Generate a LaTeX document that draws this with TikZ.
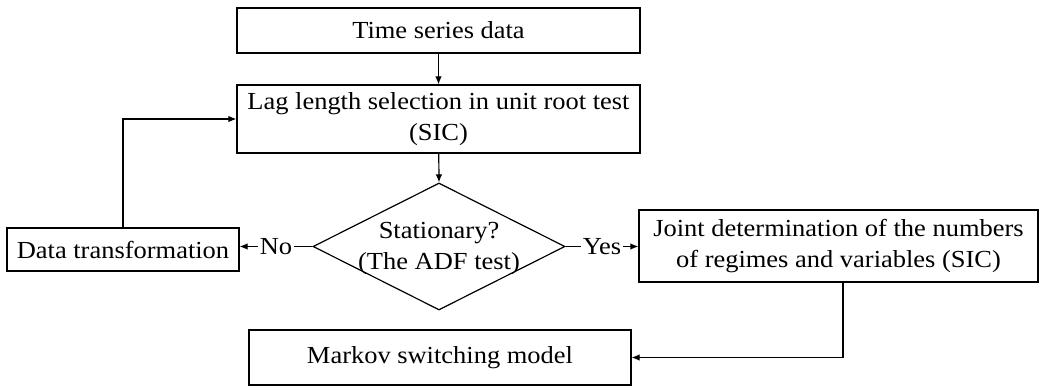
\documentclass[tikz,border=0pt]{standalone}
\usepackage{fontspec}
\setmainfont{Liberation Serif}[FakeStretch=1.08]
\usetikzlibrary{shapes.geometric,arrows.meta}
\begin{document}
\begin{tikzpicture}[x=1pt,y=-1pt,
  every node/.style={font=\fontsize{24.5}{31}\selectfont},
  box/.style={draw, line width=1.2pt, inner sep=0pt, align=center},
  arr/.style={line width=1.2pt, -{Latex[length=8pt,width=6.5pt]}},
  lbl/.style={fill=white, inner sep=1.5pt}]
\useasboundingbox (0,0) rectangle (1039,387);
\node[box, minimum width=403pt, minimum height=45pt] (ts) at (438.5,30.5) {Time series data};
\node[box, minimum width=403pt, minimum height=68pt] (lag) at (438.5,119) {Lag length selection in unit root test\\(SIC)};
\node[draw, line width=1.2pt, diamond, inner sep=0pt, minimum width=252pt, minimum height=127pt] (dec) at (439,246.5) {};
\node[align=center, inner sep=0pt] (dectext) at (439,248) {Stationary?\\(The ADF test)};
\node[box, minimum width=232pt, minimum height=43pt] (dt) at (123,249.5) {Data transformation};
\node[box, minimum width=399pt, minimum height=72pt] (joint) at (838.5,246) {Joint determination of the numbers\\of regimes and variables (SIC)};
\node[box, minimum width=382pt, minimum height=55pt] (markov) at (440,357.5) {Markov switching model};
\draw[arr] (ts) -- (lag);
\draw[arr] (lag) -- (dec.north);
\draw[arr] (dec.west) -- node[lbl] (no) {No} (dec.west -| dt.east);
\draw[arr] (dec.east) -- node[lbl] (yes) {Yes} (dec.east -| joint.west);
\draw[arr] (dt.north) |- (lag.west);
\draw[arr] ([xshift=4.5pt]joint.south) |- (markov.east);
\end{tikzpicture}
\end{document}
